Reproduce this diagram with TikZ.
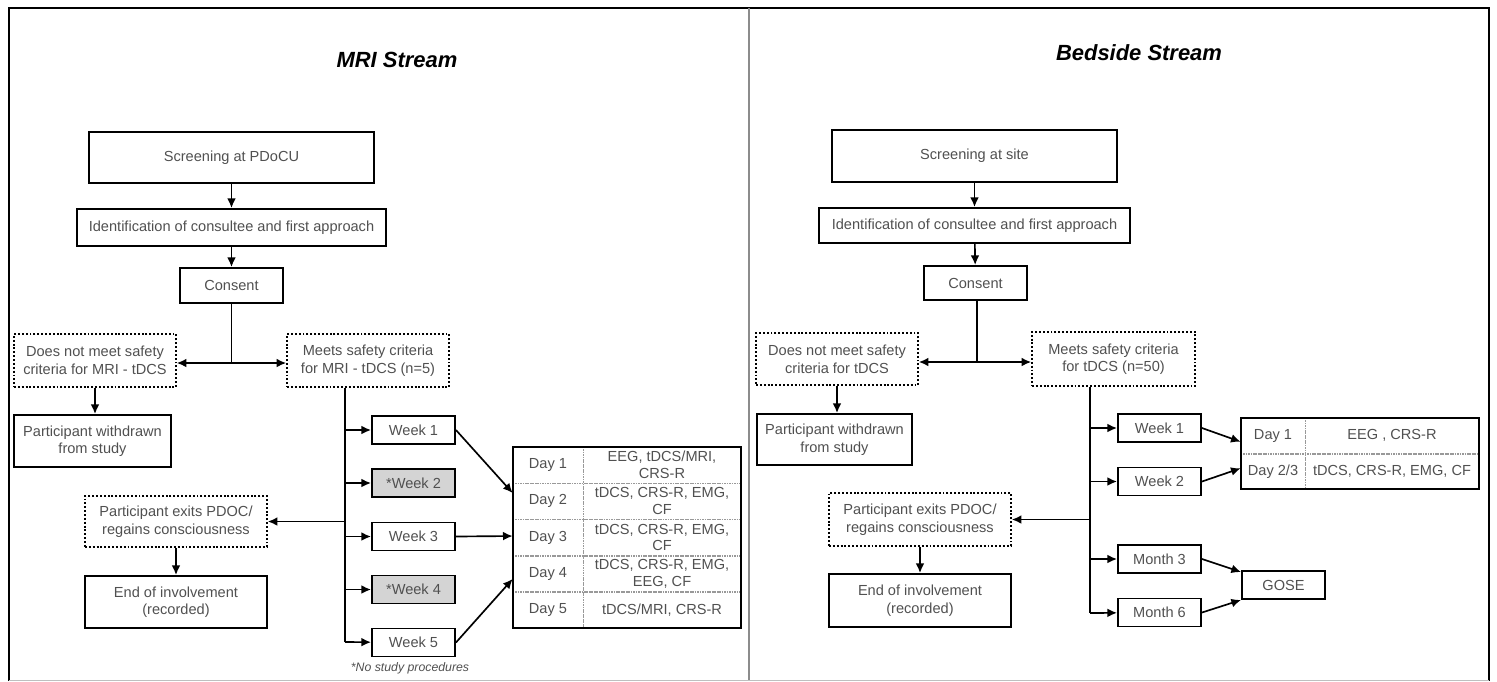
\documentclass[tikz,border=0pt]{standalone}
\usepackage{fontspec}
\setmainfont{Liberation Sans}
\usetikzlibrary{arrows.meta}
\definecolor{boxtext}{RGB}{80,80,80}
\definecolor{shade}{RGB}{212,212,212}
\tikzset{
  box/.style={draw, line width=1.1pt, text=boxtext, align=center, inner sep=0pt, font=\fontsize{8.3}{10}\selectfont},
  dotbox/.style={box, line width=0.9pt, dash pattern=on 1.1pt off 1.1pt},
  weekbox/.style={box, minimum width=1.66cm, minimum height=0.56cm},
  cell/.style={text=boxtext, align=center, inner sep=0pt, font=\fontsize{8.3}{9.5}\selectfont},
  divline/.style={black!40, line width=0.8pt, dash pattern=on 1pt off 0.4pt},
  tabline/.style={line width=1pt},
  link/.style={line width=0.95pt},
  arr/.style={link, -{Latex[length=5.5pt,width=5pt]}},
  title/.style={font=\fontsize{12.5}{14}\selectfont\bfseries\itshape}
}
\begin{document}
\begin{tikzpicture}[x=0.02cm, y=-0.02cm]
\useasboundingbox (0,0) rectangle (1497,681);
\draw[line width=1.3pt] (9,681) -- (9,8) -- (1489,8) -- (1489,681);
\draw[black!25] (9,680) -- (1489,680);
\draw[black!45, line width=0.6pt] (749,8) -- (749,680);

\node[title] (ttlA) at (397,60) {MRI Stream};
\node[box, minimum width=5.7cm, minimum height=1.02cm] (scrA) at (231.5,157.5) {Screening at PDoCU};
\node[box, minimum width=6.18cm, minimum height=0.74cm] (idA) at (231.5,227.5) {Identification of consultee and first approach};
\node[box, minimum width=2.06cm, minimum height=0.7cm] (conA) at (231.5,285.5) {Consent};
\node[dotbox, minimum width=3.24cm, minimum height=1.06cm] (noA) at (95,360.5) {Does not meet safety\\criteria for MRI - tDCS};
\node[dotbox, minimum width=3.24cm, minimum height=1.06cm] (yesA) at (368,360.5) {Meets safety criteria\\for MRI - tDCS (n=5)};
\node[box, minimum width=3.14cm, minimum height=1.04cm] (wdA) at (92.5,441) {Participant withdrawn\\from study};
\node[dotbox, minimum width=3.64cm, minimum height=1.02cm] (exA) at (176,521.5) {Participant exits PDOC/\\regains consciousness};
\node[box, minimum width=3.64cm, minimum height=1.04cm] (endA) at (176,602) {End of involvement\\(recorded)};
\node[weekbox] (wk1A) at (413.5,430) {Week 1};
\node[weekbox, fill=shade] (wk2A) at (413.5,483) {*Week 2};
\node[weekbox] (wk3A) at (413.5,536.5) {Week 3};
\node[weekbox, fill=shade] (wk4A) at (413.5,589.5) {*Week 4};
\node[weekbox] (wk5A) at (413.5,642.5) {Week 5};
\node[cell, font=\fontsize{7}{8}\selectfont\itshape] (noteA) at (410,668) {*No study procedures};

\node[cell, minimum width=1.4cm, minimum height=0.724cm] (d1A) at (548,465.1) {Day 1};
\node[cell, minimum width=3.16cm, minimum height=0.724cm] (c1A) at (662,465.1) {EEG, tDCS/MRI,\\CRS-R};
\node[cell, minimum width=1.4cm, minimum height=0.724cm] (d2A) at (548,501.3) {Day 2};
\node[cell, minimum width=3.16cm, minimum height=0.724cm] (c2A) at (662,501.3) {tDCS, CRS-R, EMG,\\CF};
\node[cell, minimum width=1.4cm, minimum height=0.724cm] (d3A) at (548,537.5) {Day 3};
\node[cell, minimum width=3.16cm, minimum height=0.724cm] (c3A) at (662,537.5) {tDCS, CRS-R, EMG,\\CF};
\node[cell, minimum width=1.4cm, minimum height=0.724cm] (d4A) at (548,573.7) {Day 4};
\node[cell, minimum width=3.16cm, minimum height=0.724cm] (c4A) at (662,573.7) {tDCS, CRS-R, EMG,\\EEG, CF};
\node[cell, minimum width=1.4cm, minimum height=0.724cm] (d5A) at (548,609.9) {Day 5};
\node[cell, minimum width=3.16cm, minimum height=0.724cm] (c5A) at (662,609.9) {tDCS/MRI, CRS-R};
\draw[divline] (d1A.south west) -- (c1A.south east);
\draw[divline] (d2A.south west) -- (c2A.south east);
\draw[divline] (d3A.south west) -- (c3A.south east);
\draw[divline] (d4A.south west) -- (c4A.south east);
\draw[divline] (d1A.north east) -- (d5A.south east);
\draw[tabline] (d1A.north west) rectangle (c5A.south east);

\coordinate (spA) at (231.5,363);
\coordinate (trA) at (345,642);
\draw[arr] (scrA) -- (idA);
\draw[arr] (idA) -- (conA);
\draw[link] (conA) -- (spA);
\draw[arr] (spA) -- (spA -| noA.east);
\draw[arr] (spA) -- (spA -| yesA.west);
\draw[arr] (noA.south) -- (noA.south |- wdA.north);
\draw[link] (yesA.south -| trA) -- (trA);
\draw[arr] (trA |- wk1A) -- (wk1A);
\draw[arr] (trA |- wk2A) -- (wk2A);
\draw[arr] (trA |- wk3A) -- (wk3A);
\draw[arr] (trA |- wk4A) -- (wk4A);
\draw[arr] (trA) -- (wk5A);
\draw[arr] (trA |- exA) -- (exA);
\draw[arr] (exA) -- (endA);
\draw[arr] (wk1A.east) -- ([yshift=0.166cm]d2A.west);
\draw[arr] (wk3A.east) -- ([yshift=0.03cm]d3A.west);
\draw[arr] (wk5A.east) -- ([yshift=-0.106cm]d4A.west);

\node[title] (ttlB) at (1139,53) {Bedside Stream};
\node[box, minimum width=5.7cm, minimum height=1.04cm] (scrB) at (974.5,156) {Screening at site};
\node[box, minimum width=6.22cm, minimum height=0.7cm] (idB) at (974.5,225.5) {Identification of consultee and first approach};
\node[box, minimum width=2.06cm, minimum height=0.68cm] (conB) at (975.5,283) {Consent};
\node[dotbox, minimum width=3.24cm, minimum height=1.04cm] (noB) at (837,359) {Does not meet safety\\criteria for tDCS};
\node[dotbox, minimum width=3.26cm, minimum height=1.08cm] (yesB) at (1113.5,359) {Meets safety criteria\\for tDCS (n=50)};
\node[box, minimum width=3.1cm, minimum height=1.02cm] (wdB) at (834.5,439.5) {Participant withdrawn\\from study};
\node[dotbox, minimum width=3.64cm, minimum height=1.06cm] (exB) at (920,519.5) {Participant exits PDOC/\\regains consciousness};
\node[box, minimum width=3.64cm, minimum height=1.06cm] (endB) at (920,600.5) {End of involvement\\(recorded)};
\node[weekbox] (wk1B) at (1159.5,428) {Week 1};
\node[weekbox] (wk2B) at (1159.5,481.5) {Week 2};
\node[weekbox] (mo3B) at (1159.5,559) {Month 3};
\node[weekbox] (mo6B) at (1159.5,612.5) {Month 6};
\node[weekbox] (goseB) at (1283.5,585) {GOSE};

\node[cell, minimum width=1.28cm, minimum height=0.71cm] (d1B) at (1273,435.75) {Day 1};
\node[cell, minimum width=3.48cm, minimum height=0.71cm] (c1B) at (1392,435.75) {EEG , CRS-R};
\node[cell, minimum width=1.28cm, minimum height=0.71cm] (d2B) at (1273,471.25) {Day 2/3};
\node[cell, minimum width=3.48cm, minimum height=0.71cm] (c2B) at (1392,471.25) {tDCS, CRS-R, EMG, CF};
\draw[divline] (d1B.south west) -- (c1B.south east);
\draw[divline] (d1B.north east) -- (d2B.south east);
\draw[tabline] (d1B.north west) rectangle (c2B.south east);

\coordinate (spB) at (977,362);
\coordinate (trB) at (1090,613);
\draw[arr] (scrB) -- (idB);
\draw[arr] (idB) -- (conB);
\draw[link] (conB.south -| spB) -- (spB);
\draw[arr] (spB) -- (spB -| noB.east);
\draw[arr] (spB) -- (spB -| yesB.west);
\draw[arr] (noB.south) -- (noB.south |- wdB.north);
\draw[link] (yesB.south -| trB) -- (trB);
\draw[arr] (trB |- wk1B) -- (wk1B);
\draw[arr] (trB |- wk2B) -- (wk2B);
\draw[arr] (trB |- mo3B) -- (mo3B);
\draw[arr] (trB) -- (mo6B);
\draw[arr] (trB |- exB) -- (exB);
\draw[arr] (exB) -- (endB);
\draw[arr] (wk1B.east) -- ([yshift=-0.12cm]d1B.west);
\draw[arr] (wk2B.east) -- ([yshift=0.06cm]d2B.west);
\draw[arr] (mo3B.east) -- ([yshift=-0.04cm]goseB.north west);
\draw[arr] (mo6B.east) -- (goseB.south west);
\end{tikzpicture}
\end{document}
